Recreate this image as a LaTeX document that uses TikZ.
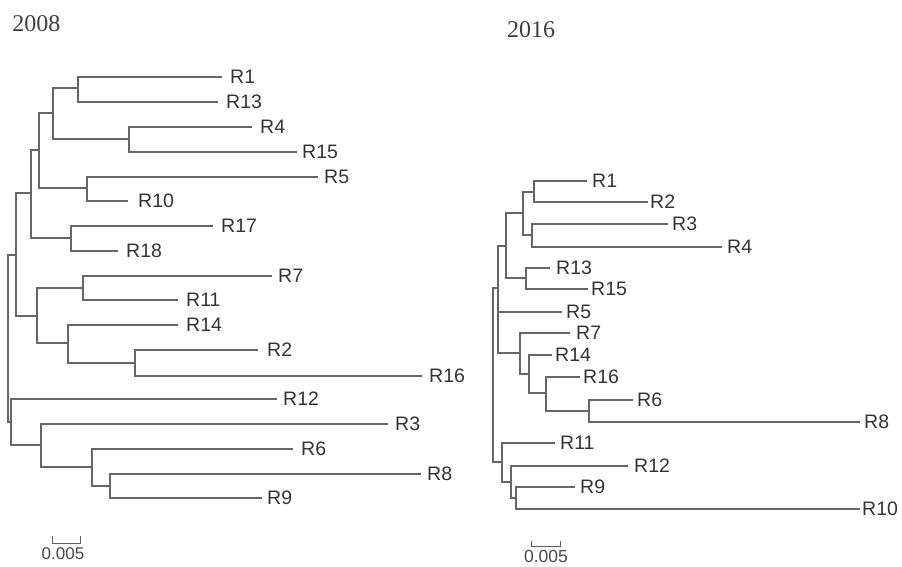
\documentclass[tikz,border=0pt]{standalone}
\usepackage{fontspec}
\setmainfont{Liberation Serif}
\newfontfamily\lblfont{Liberation Sans}
\begin{document}
\begin{tikzpicture}[x=1pt,y=-1pt,
  edge/.style={draw=black!60,line width=1.1pt},
  lbl/.style={anchor=west,inner sep=0pt,text=black!80,font=\lblfont\fontsize{19.5}{21}\selectfont},
  title/.style={inner sep=0pt,text=black!75,font=\fontsize{24}{26}\selectfont},
  scl/.style={inner sep=0pt,text=black!72,font=\lblfont\fontsize{17}{19}\selectfont},
  bar/.style={draw=black!62,line width=1pt}]
\useasboundingbox (0,0) rectangle (902,566);

% ---------- titles ----------
\node[title] (t2008) at (36.5,23.5) {2008};
\node[title] (t2016) at (531,30) {2016};

% ---------- left tree (2008) ----------
% internal nodes
\coordinate (Lroot) at (8,338);
\coordinate (LH) at (16,255);
\coordinate (LG) at (31,193);
\coordinate (LE) at (39,150);
\coordinate (LC) at (53,113);
\coordinate (LA) at (78,88);
\coordinate (LB) at (129,139);
\coordinate (LD) at (87,188);
\coordinate (LF) at (71,238);
\coordinate (LL) at (37,316);
\coordinate (LI) at (83,288);
\coordinate (LK) at (68,343);
\coordinate (LJ) at (135,363);
\coordinate (LP) at (11,422);
\coordinate (LO) at (41,445);
\coordinate (LN) at (92,467);
\coordinate (LM) at (110,486);
% tips
\coordinate (a1) at (222,77);
\coordinate (a13) at (218,102);
\coordinate (a4) at (252,127);
\coordinate (a15) at (297,152);
\coordinate (a5) at (318,177);
\coordinate (a10) at (128,201);
\coordinate (a17) at (213,226);
\coordinate (a18) at (118,251);
\coordinate (a7) at (272,276);
\coordinate (a11) at (178,300);
\coordinate (a14) at (178,325);
\coordinate (a2) at (258,350);
\coordinate (a16) at (422,376);
\coordinate (a12) at (277,399);
\coordinate (a3) at (388,424);
\coordinate (a6) at (293,449);
\coordinate (a8) at (421,474);
\coordinate (a9) at (262,498);
% labels
\node[lbl] (la1) at (230,77) {R1};
\node[lbl] (la13) at (226,102) {R13};
\node[lbl] (la4) at (260,127) {R4};
\node[lbl] (la15) at (302,152) {R15};
\node[lbl] (la5) at (324,177) {R5};
\node[lbl] (la10) at (138,201) {R10};
\node[lbl] (la17) at (221,226) {R17};
\node[lbl] (la18) at (126,251) {R18};
\node[lbl] (la7) at (278,276) {R7};
\node[lbl] (la11) at (186,300) {R11};
\node[lbl] (la14) at (186,325) {R14};
\node[lbl] (la2) at (267,350) {R2};
\node[lbl] (la16) at (429,376) {R16};
\node[lbl] (la12) at (283,399) {R12};
\node[lbl] (la3) at (395,424) {R3};
\node[lbl] (la6) at (301,449) {R6};
\node[lbl] (la8) at (427,474) {R8};
\node[lbl] (la9) at (267,498) {R9};
% connectors
\draw[edge] (Lroot) |- (LH);
\draw[edge] (Lroot) |- (LP);
\draw[edge] (LH) |- (LG);
\draw[edge] (LH) |- (LL);
\draw[edge] (LG) |- (LE);
\draw[edge] (LG) |- (LF);
\draw[edge] (LE) |- (LC);
\draw[edge] (LE) |- (LD);
\draw[edge] (LC) |- (LA);
\draw[edge] (LC) |- (LB);
\draw[edge] (LA) |- (a1);
\draw[edge] (LA) |- (a13);
\draw[edge] (LB) |- (a4);
\draw[edge] (LB) |- (a15);
\draw[edge] (LD) |- (a5);
\draw[edge] (LD) |- (a10);
\draw[edge] (LF) |- (a17);
\draw[edge] (LF) |- (a18);
\draw[edge] (LL) |- (LI);
\draw[edge] (LL) |- (LK);
\draw[edge] (LI) |- (a7);
\draw[edge] (LI) |- (a11);
\draw[edge] (LK) |- (a14);
\draw[edge] (LK) |- (LJ);
\draw[edge] (LJ) |- (a2);
\draw[edge] (LJ) |- (a16);
\draw[edge] (LP) |- (a12);
\draw[edge] (LP) |- (LO);
\draw[edge] (LO) |- (a3);
\draw[edge] (LO) |- (LN);
\draw[edge] (LN) |- (a6);
\draw[edge] (LN) |- (LM);
\draw[edge] (LM) |- (a8);
\draw[edge] (LM) |- (a9);

% ---------- right tree (2016) ----------
\coordinate (Rroot) at (493,375);
\coordinate (RQ) at (498,288);
\coordinate (Re) at (506,246);
\coordinate (Rc) at (523,213);
\coordinate (Ra) at (534,192);
\coordinate (Rb) at (532,235);
\coordinate (Rd) at (526,278);
\coordinate (Ri) at (520,353);
\coordinate (Rh) at (529,374);
\coordinate (Rg) at (546,393);
\coordinate (Rf) at (589,411);
\coordinate (Rl) at (502,462);
\coordinate (Rk) at (511,482);
\coordinate (Rj) at (516,498);
% tips
\coordinate (b1) at (587,181);
\coordinate (b2) at (648,202);
\coordinate (b3) at (668,224);
\coordinate (b4) at (722,247);
\coordinate (b13) at (550,268);
\coordinate (b15) at (588,289);
\coordinate (b5) at (562,312);
\coordinate (b7) at (570,333);
\coordinate (b14) at (552,355);
\coordinate (b16) at (580,377);
\coordinate (b6) at (633,400);
\coordinate (b8) at (860,422);
\coordinate (b11) at (555,443);
\coordinate (b12) at (628,466);
\coordinate (b9) at (575,487);
\coordinate (b10) at (860,509);
% labels
\node[lbl] (lb1) at (592,181) {R1};
\node[lbl] (lb2) at (650,202) {R2};
\node[lbl] (lb3) at (672,224) {R3};
\node[lbl] (lb4) at (727,247) {R4};
\node[lbl] (lb13) at (556,268) {R13};
\node[lbl] (lb15) at (591,289) {R15};
\node[lbl] (lb5) at (566,312) {R5};
\node[lbl] (lb7) at (576,333) {R7};
\node[lbl] (lb14) at (555,355) {R14};
\node[lbl] (lb16) at (583,377) {R16};
\node[lbl] (lb6) at (637,400) {R6};
\node[lbl] (lb8) at (864,422) {R8};
\node[lbl] (lb11) at (560,443) {R11};
\node[lbl] (lb12) at (634,466) {R12};
\node[lbl] (lb9) at (580,487) {R9};
\node[lbl] (lb10) at (862,509) {R10};
% connectors
\draw[edge] (Rroot) |- (RQ);
\draw[edge] (Rroot) |- (Rl);
\draw[edge] (RQ) |- (Re);
\draw[edge] (RQ) |- (b5);
\draw[edge] (RQ) |- (Ri);
\draw[edge] (Re) |- (Rc);
\draw[edge] (Re) |- (Rd);
\draw[edge] (Rc) |- (Ra);
\draw[edge] (Rc) |- (Rb);
\draw[edge] (Ra) |- (b1);
\draw[edge] (Ra) |- (b2);
\draw[edge] (Rb) |- (b3);
\draw[edge] (Rb) |- (b4);
\draw[edge] (Rd) |- (b13);
\draw[edge] (Rd) |- (b15);
\draw[edge] (Ri) |- (b7);
\draw[edge] (Ri) |- (Rh);
\draw[edge] (Rh) |- (b14);
\draw[edge] (Rh) |- (Rg);
\draw[edge] (Rg) |- (b16);
\draw[edge] (Rg) |- (Rf);
\draw[edge] (Rf) |- (b6);
\draw[edge] (Rf) |- (b8);
\draw[edge] (Rl) |- (b11);
\draw[edge] (Rl) |- (Rk);
\draw[edge] (Rk) |- (b12);
\draw[edge] (Rk) |- (Rj);
\draw[edge] (Rj) |- (b9);
\draw[edge] (Rj) |- (b10);

% ---------- scale bars ----------
\coordinate (s1a) at (52,543);
\coordinate (s1b) at (80,543);
\draw[bar] ([yshift=7pt]s1a) -- (s1a) -- (s1b) -- ([yshift=7pt]s1b);
\node[scl] (sl1) at (63,554) {0.005};
\coordinate (s2a) at (531,546);
\coordinate (s2b) at (560,546);
\draw[bar] ([yshift=5pt]s2a) -- (s2a) -- (s2b) -- ([yshift=5pt]s2b);
\node[scl,font=\lblfont\fontsize{17.5}{19}\selectfont] (sl2) at (546,556) {0.005};
\end{tikzpicture}
\end{document}
